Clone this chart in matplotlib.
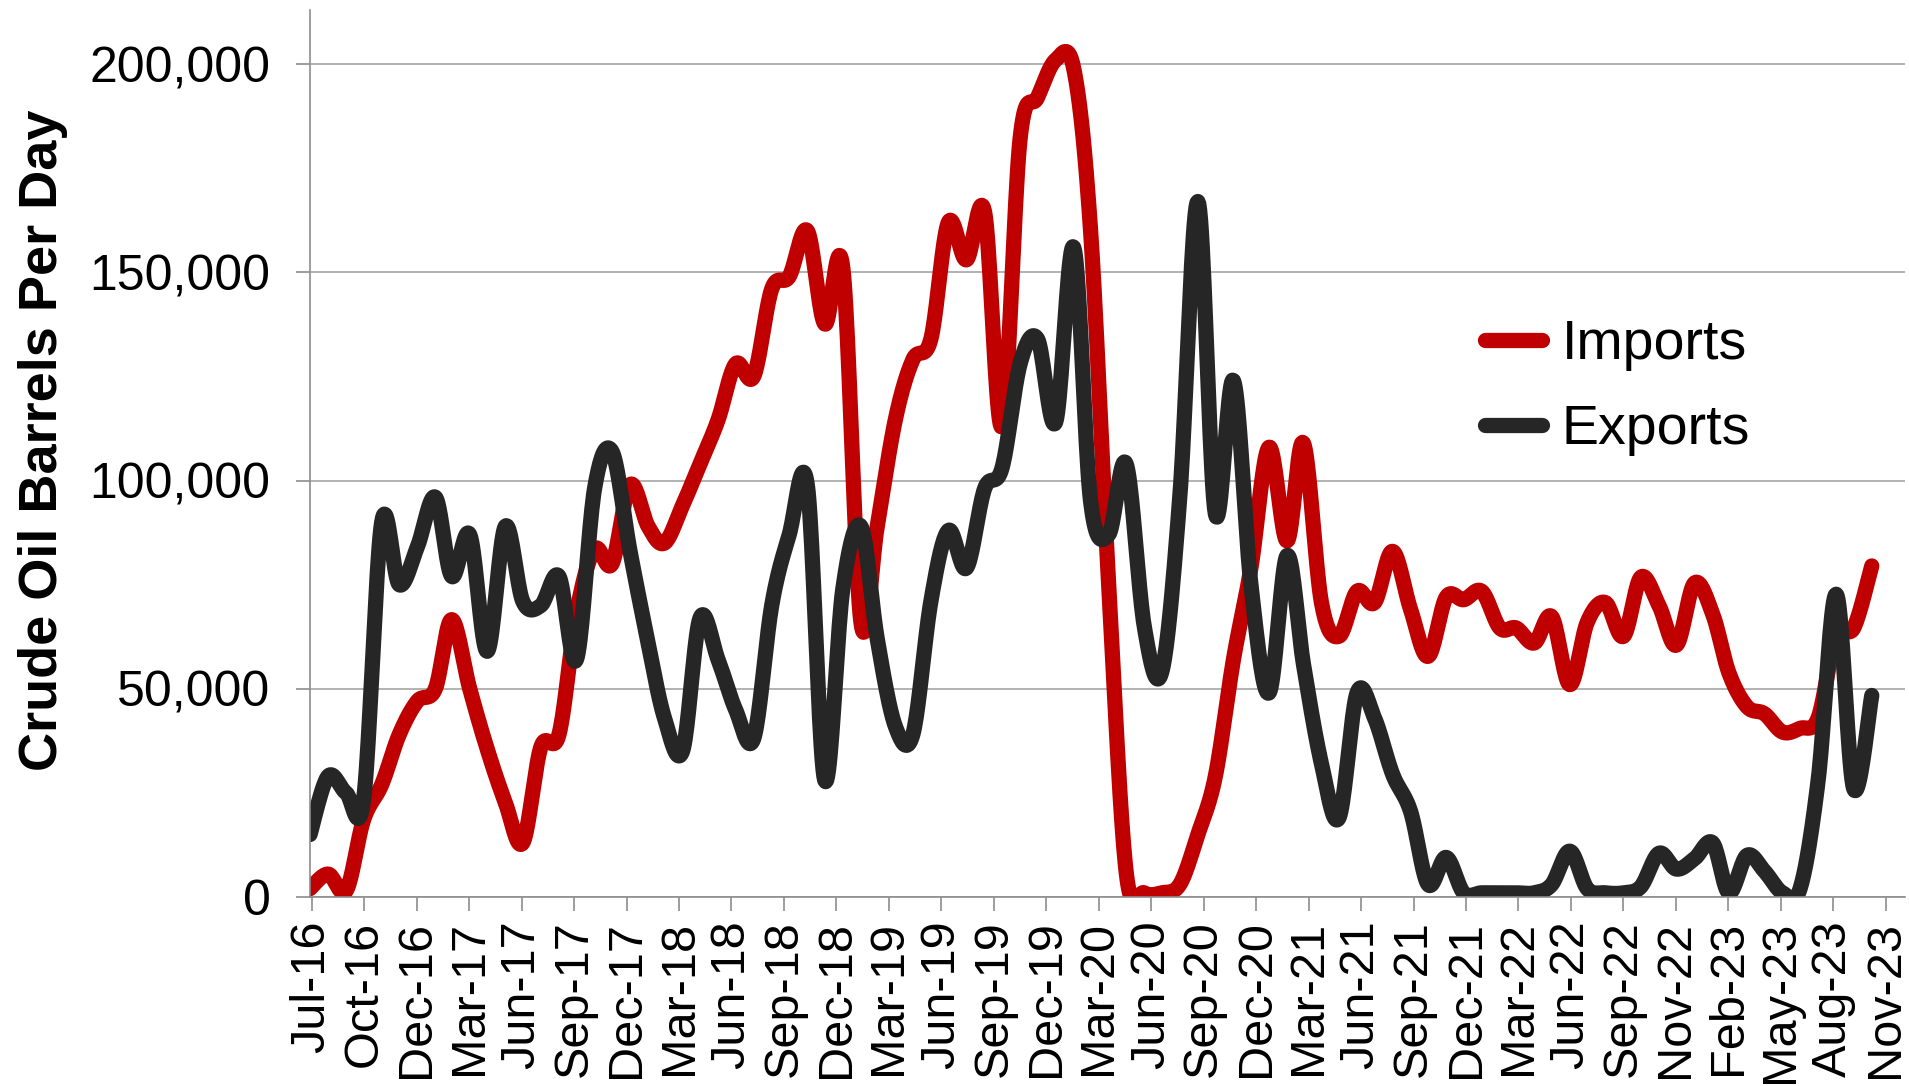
import matplotlib
matplotlib.use("Agg")
import matplotlib.pyplot as plt
import matplotlib.dates as mdates
import numpy as np
import datetime as dt
from matplotlib.ticker import FuncFormatter, FixedLocator


# date axis: one label every 90 days starting 4 Jul 2016
tick_labels = ["Jul-16", "Oct-16", "Dec-16", "Mar-17", "Jun-17", "Sep-17", "Dec-17",
               "Mar-18", "Jun-18", "Sep-18", "Dec-18", "Mar-19", "Jun-19", "Sep-19",
               "Dec-19", "Mar-20", "Jun-20", "Sep-20", "Dec-20", "Mar-21", "Jun-21",
               "Sep-21", "Dec-21", "Mar-22", "Jun-22", "Sep-22", "Nov-22", "Feb-23",
               "May-23", "Aug-23", "Nov-23"]
first_month = (2016, 7)   # monthly values, Jul-2016 .. Nov-2023

# barrels per day
imports = [2000, 5500, 1500, 18600, 27000, 39000, 47000, 50000, 66600, 50000,
           35500, 22700, 13000, 36000, 39000, 68000, 83500, 80000, 99000, 89000,
           85000, 94000, 104000, 114600, 128000, 125000, 146000, 149000, 160000, 137600,
           151000, 66000, 89000, 114600, 129000, 134000, 162000, 153000, 164600, 113000,
           182000, 192000, 201000, 199000, 160000, 75000, 6000, 1000, 1000, 3000,
           15000, 29000, 57000, 79000, 108000, 85500, 109000, 70700, 62600, 73400,
           70700, 83000, 69000, 57800, 72000, 71400, 73400, 64600, 64600, 61000,
           67300, 51000, 66000, 70700, 62600, 76800, 70000, 60500, 75400, 68000,
           53800, 45700, 44000, 39600, 40500, 43000, 63000, 64600, 79500]

exports = [15000, 29000, 25000, 23500, 90000, 75000, 84000, 96000, 77000, 87000,
           59000, 89000, 71000, 70000, 77000, 57000, 98000, 107000, 83000, 61000,
           43000, 35000, 67000, 57000, 45000, 38000, 70000, 87000, 99000, 28000,
           74000, 89000, 62000, 41000, 39000, 71000, 88000, 79000, 98000, 103000,
           128000, 134000, 114000, 156000, 95000, 87000, 104000, 65000, 54000, 96000,
           167000, 92000, 124000, 75000, 49000, 82000, 56000, 32000, 19000, 49000,
           43000, 29500, 20500, 3000, 9500, 1000, 1000, 1000, 1000, 1000,
           3000, 11000, 2000, 1000, 1000, 2500, 10500, 6700, 9200, 13000,
           1000, 10000, 6200, 1000, 2000, 28000, 72700, 26000, 48400]

RED = "#c00000"
DARK = "#262626"
GRID = "#a6a6a6"
AXIS = "#8c8c8c"
FONT = "Liberation Sans"
LW = 11


def month_dates(n):
    y, m = first_month
    out = []
    for i in range(n):
        out.append(dt.date(y + (m - 1 + i) // 12, (m - 1 + i) % 12 + 1, 1))
    return out


def smooth(x, values, steps=20):
    # Excel style smoothed line (parametric Catmull-Rom through every point)
    x = np.asarray(x, dtype=float)
    y = np.asarray(values, dtype=float)
    px = np.concatenate([[x[0]], x, [x[-1]]])
    py = np.concatenate([[y[0]], y, [y[-1]]])
    t = np.linspace(0, 1, steps, endpoint=False)
    xs, ys = [], []

    def cr(p0, p1, p2, p3):
        return 0.5 * ((2 * p1) + (-p0 + p2) * t
                      + (2 * p0 - 5 * p1 + 4 * p2 - p3) * t ** 2
                      + (-p0 + 3 * p1 - 3 * p2 + p3) * t ** 3)

    for i in range(len(y) - 1):
        xs.extend(cr(*px[i:i + 4]))
        ys.extend(cr(*py[i:i + 4]))
    xs.append(x[-1])
    ys.append(y[-1])
    return np.array(xs), np.array(ys)


def plot_chart(out_path):
    W, H = 1909, 1086
    fig = plt.figure(figsize=(W / 100, H / 100), dpi=100)
    left, right, top, bottom = 310, 1905, 10, 897
    ax = fig.add_axes([left / W, 1 - bottom / H, (right - left) / W, (bottom - top) / H])

    xd = mdates.date2num(month_dates(len(imports)))
    for vals, col, name in [(imports, RED, "Imports"), (exports, DARK, "Exports")]:
        sx, sy = smooth(xd, vals)
        ax.plot(sx, sy, color=col, lw=LW, solid_capstyle="round",
                solid_joinstyle="round", label=name)

    x0 = mdates.date2num(dt.date(2016, 7, 1))
    t0 = mdates.date2num(dt.date(2016, 7, 4))
    ax.set_xlim(x0, x0 + 2736)
    ax.set_ylim(0, 213000)
    ax.set_yticks([0, 50000, 100000, 150000, 200000])
    ax.yaxis.set_major_formatter(FuncFormatter(lambda v, p: f"{v:,.0f}"))
    ax.xaxis.set_major_locator(FixedLocator(t0 + 90 * np.arange(len(tick_labels))))
    ax.set_xticklabels(tick_labels, rotation=90, ha="center", va="top")

    ax.grid(axis="y", color=GRID, lw=1.2)
    ax.set_axisbelow(True)
    for s in ["top", "right"]:
        ax.spines[s].set_visible(False)
    for s in ["left", "bottom"]:
        ax.spines[s].set_color(AXIS)
        ax.spines[s].set_linewidth(1.2)
    ax.tick_params(axis="both", direction="out", length=10, width=1.2, color=AXIS,
                   labelcolor="black")
    ax.tick_params(axis="x", pad=7, labelsize=35)
    ax.tick_params(axis="y", pad=18.5, labelsize=36)
    for lab in ax.get_xticklabels() + ax.get_yticklabels():
        lab.set_fontfamily(FONT)

    fig.text(43 / W, 1 - 440 / H, "Crude Oil Barrels Per Day", rotation=90,
             ha="center", va="center", fontsize=39, fontweight="bold", family=FONT)

    leg = ax.legend(loc="upper left", bbox_to_anchor=(1485 / W, 1 - 319 / H),
                    bbox_transform=fig.transFigure, frameon=False,
                    prop={"family": FONT, "size": 40}, handlelength=1.03,
                    handletextpad=0.35, labelspacing=0.6, borderpad=0, borderaxespad=0)
    for line in leg.get_lines():
        line.set_linewidth(LW)
        line.set_solid_capstyle("round")

    fig.savefig(out_path, dpi=100)


###################
# MAIN
###################

if __name__ == "__main__":
    plot_chart("out.png")
